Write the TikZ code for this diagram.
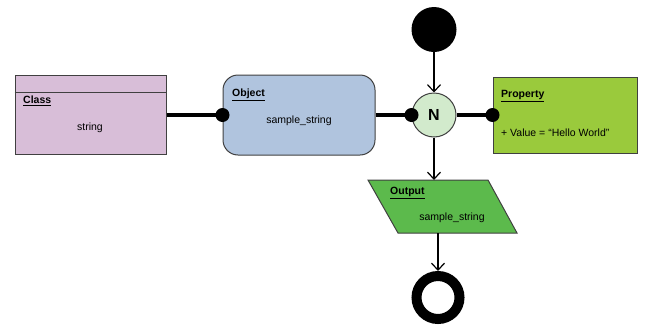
\documentclass[tikz,border=0pt]{standalone}
\usepackage{fontspec}
\setmainfont{Liberation Sans}
\usetikzlibrary{arrows.meta}
\definecolor{classfill}{RGB}{216,190,216}
\definecolor{objfill}{RGB}{176,196,222}
\definecolor{nfill}{RGB}{210,234,204}
\definecolor{propfill}{RGB}{154,202,60}
\definecolor{outfill}{RGB}{92,186,76}
\definecolor{edge}{RGB}{64,64,64}
\tikzset{
  box/.style={draw=edge, line width=1pt, inner sep=0pt},
  ttl/.style={font=\fontsize{10.5}{12}\selectfont\bfseries, anchor=west, inner sep=0pt},
  txt/.style={font=\fontsize{10.5}{12}\selectfont, inner sep=0pt},
  thick conn/.style={line width=4pt, black},
  flow/.style={line width=1.2pt, black, -{Straight Barb[length=7pt,width=13pt,line width=1.2pt]}},
  dot/.style={fill=black}
}
\begin{document}
\begin{tikzpicture}[x=1pt,y=-1pt]
\useasboundingbox (0,0) rectangle (645,327);
% Class
\node[box, fill=classfill, minimum width=151pt, minimum height=79pt] (class) at (90.5,114.5) {};
\draw[edge, line width=1pt] (class.west |- 0,92) -- (class.east |- 0,92);
\node[ttl] (classT) at (23,101) {\underline{Class}};
\node[txt] (classV) at (90,128) {string};
% Object
\node[box, fill=objfill, rounded corners=15pt, minimum width=152pt, minimum height=80pt] (obj) at (299,115) {};
\node[ttl] (objT) at (232,95) {\underline{Object}};
\node[txt] (objV) at (299,121) {sample\_string};
% N
\node[box, circle, fill=nfill, minimum size=44pt, font=\fontsize{16}{18}\selectfont\bfseries] (n) at (434,115) {N};
% start
\node[circle, fill=black, minimum size=45pt, inner sep=0pt] (start) at (434,29.5) {};
% Property
\node[box, fill=propfill, minimum width=144pt, minimum height=76pt] (prop) at (565,115) {};
\node[ttl] (propT) at (501,96) {\underline{Property}};
\node[txt, anchor=west] (propV) at (501,133) {+ Value = “Hello World”};
% Output
\coordinate (o1) at (368,180);
\coordinate (o2) at (488,180);
\coordinate (o3) at (517,233);
\coordinate (o4) at (398,233);
\draw[edge, line width=1pt, fill=outfill] (o1) -- (o2) -- (o3) -- (o4) -- cycle;
\coordinate (outtop) at (434,180);
\coordinate (outbot) at (438,233);
\node[ttl] (outT) at (390,193) {\underline{Output}};
\node[txt] (outV) at (452,218) {sample\_string};
% End
\node[circle, draw=black, line width=10pt, fill=white, minimum size=43pt, inner sep=0pt] (end) at (438,297.5) {};
% connectors
\draw[thick conn] (class.east |- 0,115) -- (obj.west);
\fill[dot] (obj.west) circle (7);
\draw[thick conn] (obj.east) -- (n.west);
\fill[dot] (n.west) circle (7);
\draw[thick conn] (n.east) -- (prop.west);
\fill[dot] (prop.west) circle (7);
\draw[flow] (start.south) -- (n.north);
\draw[flow] (n.south) -- (outtop);
\draw[flow] (outbot) -- (end.north);
\end{tikzpicture}
\end{document}
